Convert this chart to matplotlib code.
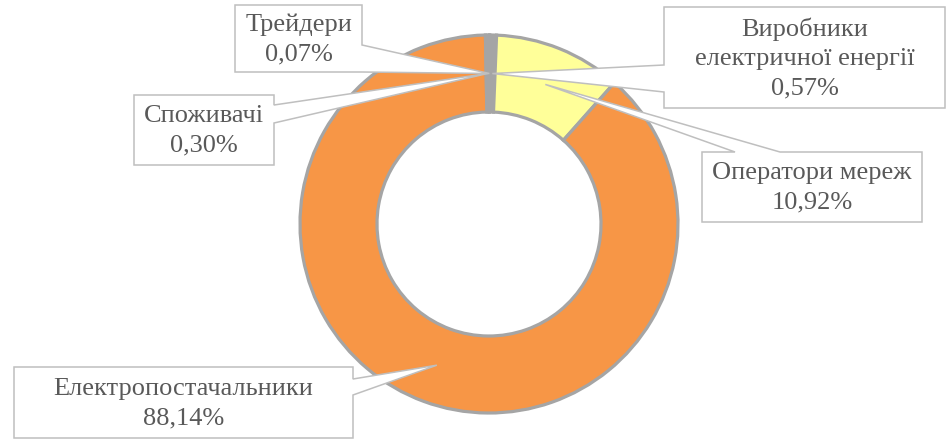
import numpy as np
import matplotlib
matplotlib.use('Agg')
from matplotlib import pyplot as plt
from matplotlib.patches import Polygon

# data (share of participants, %)
labels = ['Трейдери', 'Виробники\nелектричної енергії', 'Оператори мереж',
          'Електропостачальники', 'Споживачі']
values = [0.07, 0.57, 10.92, 88.14, 0.30]
colors = ['#9BBB59', '#A5A5A5', '#FFFF99', '#F79646', '#A5A5A5']

W, H = 946, 441
cx, cy = 489, H - 224   # donut centre in pixels (y up)
R, RW = 189, 77          # outer radius, ring width

# callout boxes: x0, x1, ytop, ybot (pixels from top), pointer side, pointer base
boxes = [
    (235, 362, 5, 72, 'right', (45, 72)),
    (664, 945, 7, 108, 'left', (65, 92)),
    (702, 922, 152, 222, 'top', (735, 780)),
    (14, 353, 367, 438, 'right', (379, 395)),
    (134, 274, 95, 165, 'right', (105, 123)),
]

fig = plt.figure(figsize=(W/100, H/100), dpi=100)
ax = fig.add_axes([0, 0, 1, 1])
ax.pie(values, colors=colors, startangle=90, counterclock=False, center=(cx, cy),
       radius=R, wedgeprops=dict(width=RW, edgecolor='#A5A5A5', linewidth=2.3))
ax.set_xlim(0, W)
ax.set_ylim(0, H)
ax.set_aspect('equal')
ax.axis('off')

# tip of each pointer: middle of ring at middle angle of slice
cum = np.cumsum([0] + values)
mid = (cum[:-1] + cum[1:]) / 2 / 100 * 2*np.pi
rmid = R - RW/2
tips = [(cx + rmid*np.sin(a), cy + rmid*np.cos(a)) for a in mid]

for k, (x0, x1, yt, yb, side, base) in enumerate(boxes):
    yt, yb = H - yt, H - yb
    tx, ty = tips[k]
    if side == 'right':
        b0, b1 = H - base[0], H - base[1]
        pts = [(x0, yt), (x1, yt), (x1, b0), (tx, ty), (x1, b1), (x1, yb), (x0, yb)]
    elif side == 'left':
        b0, b1 = H - base[0], H - base[1]
        pts = [(x0, yt), (x1, yt), (x1, yb), (x0, yb), (x0, b1), (tx, ty), (x0, b0)]
    else:
        pts = [(x0, yt), (base[0], yt), (tx, ty), (base[1], yt), (x1, yt), (x1, yb), (x0, yb)]
    ax.add_patch(Polygon(pts, closed=True, facecolor='white', edgecolor='#BFBFBF',
                         linewidth=1.1, zorder=5 + k))
    txt = labels[k] + '\n' + ('%.2f' % values[k]).replace('.', ',') + '%'
    ax.text((x0 + x1)/2, (yt + yb)/2 - 1, txt, ha='center', va='center', fontsize=19,
            family='Liberation Serif', color='#595959', linespacing=1.45, zorder=20)

fig.savefig('out.png', dpi=100)
